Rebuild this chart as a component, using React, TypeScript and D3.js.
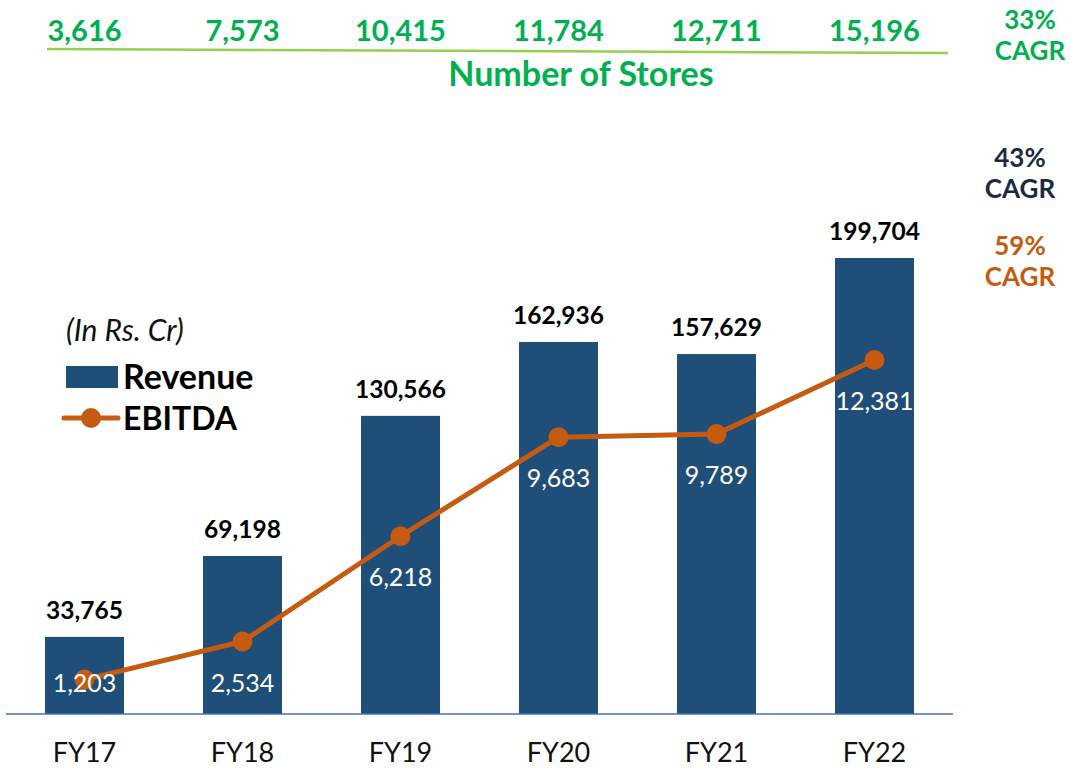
import { useEffect, useRef } from "react";
import * as d3 from "d3";

// Revenue bars + EBITDA line, store counts on top
const years = ["FY17", "FY18", "FY19", "FY20", "FY21", "FY22"];
const revenue = [33765, 69198, 130566, 162936, 157629, 199704];
const ebitda = [1203, 2534, 6218, 9683, 9789, 12381];
const stores = [3616, 7573, 10415, 11784, 12711, 15196];

const storesCagr = ["33%", "CAGR"];
const revenueCagr = ["43%", "CAGR"];
const ebitdaCagr = ["59%", "CAGR"];

const BAR = "#1F4E79";
const LINE = "#C55A11";
const GREEN = "#00B050";
const NAVY = "#1B2A41";
const FONT = "Lato, 'Open Sans', sans-serif";

export default function App() {
  const svgRef = useRef<SVGSVGElement>(null);
  const width = 1071;
  const height = 768;

  useEffect(() => {
    if (!svgRef.current) return;
    const svg = d3.select(svgRef.current);
    svg.selectAll("*").remove();

    const baseY = 714;
    const fmt = d3.format(",");

    const x = d3.scaleBand<string>().domain(years).range([5.5, 953.5]).paddingInner(0.5).paddingOuter(0.25);
    const yRev = d3.scaleLinear().domain([0, d3.max(revenue)!]).range([baseY, 258]);
    const yEb = d3.scaleLinear().domain([0, d3.max(ebitda)!]).range([baseY, 360]);
    const cx = (i: number) => x(years[i])! + x.bandwidth() / 2;

    // store counts row
    const top = svg.append("g");
    top.selectAll("text.store")
      .data(stores)
      .join("text")
      .attr("class", "store")
      .attr("x", (_, i) => cx(i))
      .attr("y", 41)
      .attr("text-anchor", "middle")
      .attr("font-family", FONT).attr("font-weight", 700).attr("font-size", 29)
      .attr("fill", GREEN)
      .text((d) => fmt(d));

    top.append("line")
      .attr("x1", 47).attr("y1", 49).attr("x2", 948).attr("y2", 53)
      .attr("stroke", "#92D050").attr("stroke-width", 2.5);

    top.append("text")
      .attr("x", 581).attr("y", 86)
      .attr("text-anchor", "middle")
      .attr("font-family", FONT).attr("font-weight", 700).attr("font-size", 34)
      .attr("fill", GREEN)
      .text("Number of Stores");

    // CAGR notes on the right
    const cagr = (lines: string[], yTop: number, color: string, cxR: number) => {
      lines.forEach((t, i) => {
        svg.append("text")
          .attr("x", cxR).attr("y", yTop + i * 31)
          .attr("text-anchor", "middle")
          .attr("font-family", FONT).attr("font-weight", 700).attr("font-size", 26)
          .attr("fill", color)
          .text(t);
      });
    };
    cagr(storesCagr, 29, GREEN, 1030);
    cagr(revenueCagr, 167, NAVY, 1020);
    cagr(ebitdaCagr, 255, LINE, 1020);

    // bars
    const g = svg.append("g");
    g.selectAll("rect.bar")
      .data(revenue)
      .join("rect")
      .attr("class", "bar")
      .attr("x", (_, i) => x(years[i])!)
      .attr("y", (d) => yRev(d))
      .attr("width", x.bandwidth())
      .attr("height", (d) => baseY - yRev(d))
      .attr("fill", BAR);

    g.selectAll("text.rev")
      .data(revenue)
      .join("text")
      .attr("class", "rev")
      .attr("x", (_, i) => cx(i))
      .attr("y", (d) => yRev(d) - 18)
      .attr("text-anchor", "middle")
      .attr("font-family", FONT).attr("font-weight", 700).attr("font-size", 24.5)
      .attr("fill", "#000")
      .text((d) => fmt(d));

    // baseline axis
    g.append("line")
      .attr("x1", 6).attr("x2", 953).attr("y1", baseY).attr("y2", baseY)
      .attr("stroke", "#4472C4").attr("stroke-width", 1.5);

    g.selectAll("text.cat")
      .data(years)
      .join("text")
      .attr("class", "cat")
      .attr("x", (_, i) => cx(i))
      .attr("y", 762)
      .attr("text-anchor", "middle")
      .attr("font-family", FONT).attr("font-size", 27)
      .attr("fill", "#111")
      .text((d) => d);

    // EBITDA line
    const line = d3.line<number>().x((_, i) => cx(i)).y((d) => yEb(d));
    g.append("path")
      .datum(ebitda)
      .attr("d", line)
      .attr("fill", "none")
      .attr("stroke", LINE)
      .attr("stroke-width", 5)
      .attr("stroke-linejoin", "round");

    g.selectAll("circle.eb")
      .data(ebitda)
      .join("circle")
      .attr("class", "eb")
      .attr("cx", (_, i) => cx(i))
      .attr("cy", (d) => yEb(d))
      .attr("r", 10)
      .attr("fill", LINE);

    g.selectAll("text.ebl")
      .data(ebitda)
      .join("text")
      .attr("class", "ebl")
      .attr("x", (_, i) => cx(i))
      .attr("y", (d) => Math.min(yEb(d) + 50, baseY - 22))
      .attr("text-anchor", "middle")
      .attr("font-family", FONT).attr("font-size", 25)
      .attr("fill", "#fff")
      .text((d) => fmt(d));

    // legend
    const lg = svg.append("g");
    lg.append("text")
      .attr("x", 66).attr("y", 341)
      .attr("font-family", FONT).attr("font-style", "italic").attr("font-size", 30)
      .attr("fill", "#111")
      .text("(In Rs. Cr)");
    lg.append("rect")
      .attr("x", 66).attr("y", 366).attr("width", 52).attr("height", 22)
      .attr("fill", BAR);
    lg.append("text")
      .attr("x", 123).attr("y", 389)
      .attr("font-family", FONT).attr("font-weight", 700).attr("font-size", 34)
      .attr("fill", "#000")
      .text("Revenue");
    lg.append("line")
      .attr("x1", 64).attr("x2", 118).attr("y1", 418).attr("y2", 418)
      .attr("stroke", LINE).attr("stroke-width", 5).attr("stroke-linecap", "round");
    lg.append("circle")
      .attr("cx", 91).attr("cy", 418).attr("r", 10)
      .attr("fill", LINE);
    lg.append("text")
      .attr("x", 123).attr("y", 430)
      .attr("font-family", FONT).attr("font-weight", 700).attr("font-size", 32)
      .attr("fill", "#000")
      .text("EBITDA");
  }, []);

  return (
    <svg
      ref={svgRef}
      width={width}
      height={height}
      style={{ position: "absolute", left: 0, top: 0, background: "#fff" }}
    />
  );
}
